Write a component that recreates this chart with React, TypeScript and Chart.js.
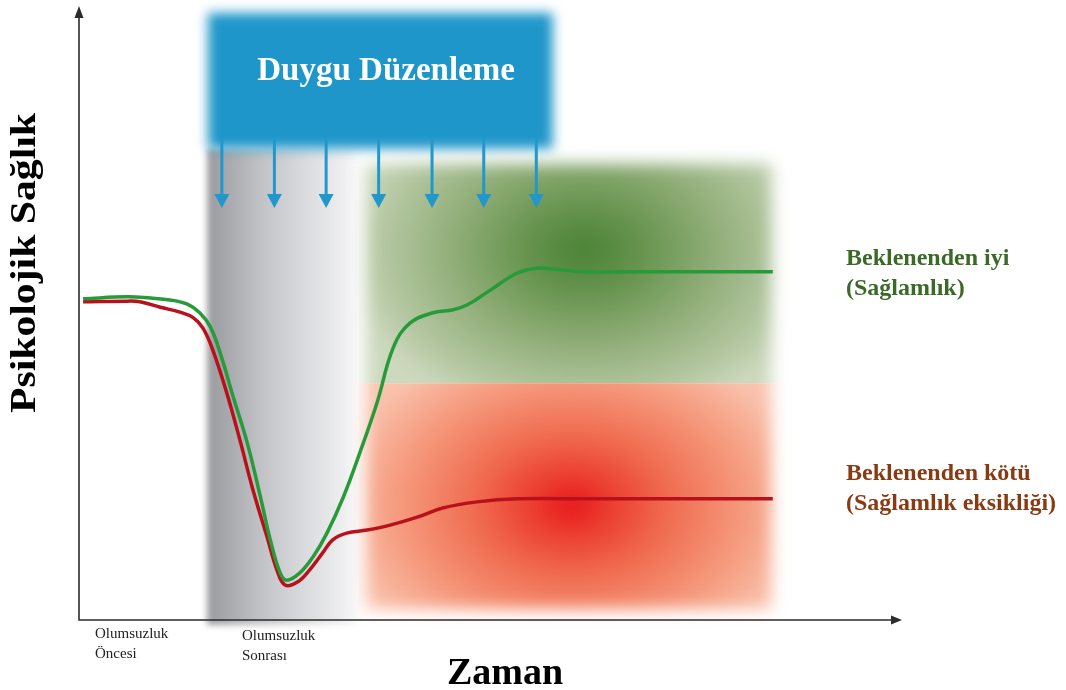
import React, { useEffect, useRef } from "react";
import { Chart, registerables } from "chart.js";

Chart.register(...registerables);

// ---- data (conceptual units: time 0..100, psychological health 0..100) ----
const resilientTime = [0.5, 5.9, 8.7, 11.1, 13.2, 14.7, 16.0, 17.2, 18.8, 20.5, 22.1, 23.3, 24.5, 25.3, 26.9, 28.5, 30.2, 32.2, 34.2, 36.3, 38.3, 40.3, 43.1, 45.6, 47.3, 50.1, 53.4, 55.8, 57.4, 61.4, 68.0, 76.0, 84.5];
const resilientHealth = [52.5, 52.8, 52.6, 52.3, 51.6, 50.2, 47.9, 43.6, 36.4, 28.9, 20.1, 13.1, 7.7, 6.5, 7.7, 10.3, 14.2, 20.1, 27.3, 35.5, 44.6, 48.5, 50.2, 50.7, 51.5, 53.9, 56.7, 57.5, 57.4, 56.9, 56.9, 56.9, 56.9];
const vulnerableTime = [0.5, 5.9, 7.4, 9.9, 12.3, 13.9, 15.1, 16.3, 18.0, 19.6, 21.2, 22.9, 24.1, 25.1, 26.6, 28.1, 29.7, 30.9, 32.6, 35.1, 37.9, 41.2, 44.3, 48.5, 53.4, 61.4, 68.0, 76.0, 84.5];
const vulnerableHealth = [52.0, 52.1, 52.0, 51.1, 50.3, 49.4, 47.7, 44.1, 37.1, 29.4, 21.2, 13.6, 8.2, 5.7, 6.2, 8.2, 11.0, 13.1, 14.2, 14.7, 15.5, 16.8, 18.3, 19.3, 19.8, 19.8, 19.8, 19.8, 19.8];

const phaseLabels = [["Olumsuzluk", "Öncesi"], ["Olumsuzluk", "Sonrası"]];
const outcomeLabels = [["Beklenenden iyi", "(Sağlamlık)"], ["Beklenenden kötü", "(Sağlamlık eksikliği)"]];
const regulationLabel = "Duygu Düzenleme";
const xTitle = "Zaman";
const yTitle = "Psikolojik Sağlık";
const regulationArrowTimes = [17.4, 23.8, 30.1, 36.5, 43.0, 49.3, 55.7];

const SERIF = '"Liberation Serif", "Times New Roman", serif';

function glowBox(ctx: CanvasRenderingContext2D, clip: number[], rect: number[], cx: number, cy: number, rx: number, ry: number, stops: [number, string][], blur: number) {
  ctx.save();
  ctx.beginPath();
  ctx.rect(clip[0], clip[1], clip[2] - clip[0], clip[3] - clip[1]);
  ctx.clip();
  ctx.filter = `blur(${blur}px)`;
  ctx.beginPath();
  ctx.rect(rect[0], rect[1], rect[2] - rect[0], rect[3] - rect[1]);
  ctx.translate(cx, cy);
  ctx.scale(rx / ry, 1);
  const g = ctx.createRadialGradient(0, 0, 0, 0, 0, ry);
  stops.forEach(([o, c]) => g.addColorStop(o, c));
  ctx.fillStyle = g;
  ctx.fill();
  ctx.restore();
}

const diagramPlugin = {
  id: "diagram",
  beforeDatasetsDraw(chart: any) {
    const ctx: CanvasRenderingContext2D = chart.ctx;
    const X = (v: number) => chart.scales.x.getPixelForValue(v);
    const Y = (v: number) => chart.scales.y.getPixelForValue(v);

    // grey "after adversity" band
    ctx.save();
    const gx0 = X(15.6), gx1 = X(34.6), gy0 = Y(77), gy1 = Y(-0.8);
    const gg = ctx.createLinearGradient(gx0, 0, gx1, 0);
    gg.addColorStop(0, "#9a9b9f");
    gg.addColorStop(0.1, "#a4a5a9");
    gg.addColorStop(0.35, "#c2c3c7");
    gg.addColorStop(0.65, "#dcdde0");
    gg.addColorStop(0.88, "#efeff1");
    gg.addColorStop(1, "#ffffff");
    ctx.filter = "blur(3px)";
    ctx.fillStyle = gg;
    ctx.fillRect(gx0, gy0, gx1 - gx0, gy1 - gy0);
    ctx.restore();

    const bx0 = X(34.2), bx1 = X(85.1), mid = Y(38.7);
    // green (better than expected) box
    glowBox(ctx, [0, 0, chart.width, mid], [bx0 + 6, Y(75.5) + 6, bx1 - 6, mid + 20], X(61.5), Y(60.5), 240, 175,
      [[0, "#4a8235"], [0.25, "#67944f"], [0.55, "#91ae79"], [0.85, "#b6c8a3"], [1, "#cdd9be"]], 8);
    // red (worse than expected) box
    glowBox(ctx, [0, mid, chart.width, chart.height], [bx0 + 6, mid - 20, bx1 - 6, Y(0.8) - 6], X(60.0), Y(18.8), 240, 175,
      [[0, "#e8161b"], [0.15, "#eb3a2e"], [0.4, "#f06b4f"], [0.7, "#f5977a"], [1, "#f9c4ae"]], 8);

    // blue emotion regulation box
    ctx.save();
    ctx.filter = "blur(6px)";
    ctx.fillStyle = "#1f96c9";
    ctx.fillRect(X(15.7), Y(99.2), X(57.7) - X(15.7), Y(77.0) - Y(99.2));
    ctx.restore();

    ctx.save();
    ctx.fillStyle = "#ffffff";
    ctx.font = `bold 33px ${SERIF}`;
    ctx.textAlign = "center";
    ctx.textBaseline = "alphabetic";
    ctx.fillText(regulationLabel, X(37.4), Y(88.2));
    ctx.restore();

    // arrows
    ctx.save();
    ctx.strokeStyle = "#2197cb";
    ctx.fillStyle = "#2197cb";
    ctx.lineWidth = 3;
    regulationArrowTimes.forEach((t) => {
      const x = X(t);
      const yTop = Y(79), yTip = Y(67.3);
      ctx.beginPath();
      ctx.moveTo(x, yTop);
      ctx.lineTo(x, yTip - 12);
      ctx.stroke();
      ctx.beginPath();
      ctx.moveTo(x - 7.5, yTip - 14);
      ctx.lineTo(x + 7.5, yTip - 14);
      ctx.lineTo(x, yTip);
      ctx.closePath();
      ctx.fill();
    });
    ctx.restore();
  },
  afterDatasetsDraw(chart: any) {
    const ctx: CanvasRenderingContext2D = chart.ctx;
    const { left, right, top, bottom } = chart.chartArea;
    // axes
    ctx.save();
    ctx.strokeStyle = "#2b2b2b";
    ctx.fillStyle = "#2b2b2b";
    ctx.lineWidth = 1.6;
    ctx.beginPath();
    ctx.moveTo(left, top + 8);
    ctx.lineTo(left, bottom);
    ctx.lineTo(right - 6, bottom);
    ctx.stroke();
    ctx.beginPath();
    ctx.moveTo(left - 4.5, top + 10);
    ctx.lineTo(left + 4.5, top + 10);
    ctx.lineTo(left, top - 2);
    ctx.closePath();
    ctx.fill();
    ctx.beginPath();
    ctx.moveTo(right - 9, bottom - 4.5);
    ctx.lineTo(right - 9, bottom + 4.5);
    ctx.lineTo(right + 2, bottom);
    ctx.closePath();
    ctx.fill();
    ctx.restore();

    // axis titles
    ctx.save();
    ctx.fillStyle = "#000000";
    ctx.font = `bold 38px ${SERIF}`;
    ctx.textAlign = "center";
    ctx.textBaseline = "alphabetic";
    ctx.fillText(xTitle, 505, 684);
    ctx.translate(26, 263);
    ctx.rotate(-Math.PI / 2);
    ctx.font = `bold 35px ${SERIF}`;
    const w = ctx.measureText(yTitle).width;
    ctx.scale(300 / w, 1);
    ctx.textBaseline = "middle";
    ctx.fillText(yTitle, 0, 0);
    ctx.restore();

    // phase labels
    ctx.save();
    ctx.fillStyle = "#222222";
    ctx.font = `15px ${SERIF}`;
    ctx.textAlign = "left";
    const phaseX = [95, 242];
    const phaseY = [638, 640];
    phaseLabels.forEach((lines, i) => {
      lines.forEach((s, j) => ctx.fillText(s, phaseX[i], phaseY[i] + j * 20));
    });
    ctx.restore();

    // outcome labels
    ctx.save();
    ctx.font = `bold 24px ${SERIF}`;
    ctx.textAlign = "left";
    const outColors = ["#3b6a28", "#8a3a12"];
    const outY = [265, 480];
    outcomeLabels.forEach((lines, i) => {
      ctx.fillStyle = outColors[i];
      lines.forEach((s, j) => ctx.fillText(s, 846, outY[i] + j * 30));
    });
    ctx.restore();
  },
};

export default function App() {
  const ref = useRef<HTMLCanvasElement | null>(null);
  useEffect(() => {
    if (!ref.current) return;
    const chart = new Chart(ref.current, {
      type: "line",
      data: {
        datasets: [
          {
            label: "Beklenenden iyi",
            data: resilientTime.map((t, i) => ({ x: t, y: resilientHealth[i] })),
            borderColor: "#279a3a",
            borderWidth: 3.5,
            pointRadius: 0,
            tension: 0.4,
            fill: false,
          },
          {
            label: "Beklenenden kötü",
            data: vulnerableTime.map((t, i) => ({ x: t, y: vulnerableHealth[i] })),
            borderColor: "#b8111b",
            borderWidth: 3.5,
            pointRadius: 0,
            tension: 0.4,
            fill: false,
          },
        ],
      },
      options: {
        responsive: false,
        animation: false,
        layout: { padding: { left: 79, right: 166, top: 8, bottom: 70 } },
        scales: {
          x: { type: "linear", min: 0, max: 100, display: false },
          y: { type: "linear", min: 0, max: 100, display: false },
        },
        plugins: { legend: { display: false }, tooltip: { enabled: false } },
      },
      plugins: [diagramPlugin],
    } as any);
    return () => chart.destroy();
  }, []);
  return (
    <div style={{ position: "fixed", left: 0, top: 0, width: 1066, height: 690, background: "#ffffff" }}>
      <canvas ref={ref} width={1066} height={690} style={{ display: "block" }} />
    </div>
  );
}
